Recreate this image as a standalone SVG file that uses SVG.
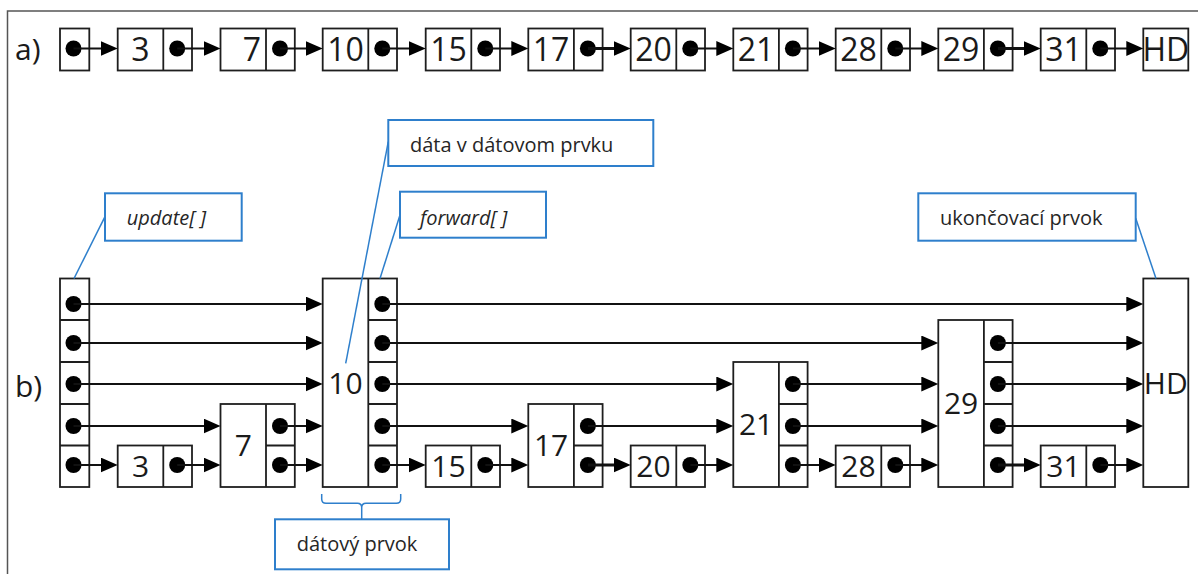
<svg xmlns="http://www.w3.org/2000/svg" width="1198" height="574" viewBox="0 0 1198 574">
  <defs>
    <style>
      .box { fill: #fff; stroke: #1e1e1e; stroke-width: 1.8; }
      .sep { stroke: #1e1e1e; stroke-width: 1.8; fill: none; }
      .dot { fill: #000; }
      .num { font-family: "Open Sans", "Liberation Sans", sans-serif; font-size: 30px; fill: #1a1a1a; text-anchor: middle; }
      .numa { font-size: 32px; }
      .tag { font-family: "Open Sans", "Liberation Sans", sans-serif; font-size: 30px; fill: #1a1a1a; }
      .lbl { font-family: "Open Sans", "Liberation Sans", sans-serif; font-size: 20px; fill: #262626; }
      .it { font-style: italic; }
      .call { fill: #fff; stroke: #2e7fcc; stroke-width: 2; }
      .lead { stroke: #2e7fcc; stroke-width: 1.5; fill: none; }
      .arr { stroke: #111; stroke-width: 1.8; fill: none; marker-end: url(#ah); }
      .thick { stroke-width: 3.2; }
      .frame { stroke: #555; stroke-width: 1.5; fill: none; }
    </style>
    <marker id="ah" markerUnits="userSpaceOnUse" markerWidth="18" markerHeight="16" refX="9" refY="7.5" orient="auto">
      <path d="M0,0 L17,7.5 L0,15 z" fill="#000"/>
    </marker>
  </defs>

  <rect width="1198" height="574" fill="#fff"/>
  <!-- page frame -->
  <path class="frame" d="M7.5,574 V11 H1198"/>

  <!-- section labels -->
  <text class="tag" x="15" y="60">a)</text>
  <text class="tag" x="15" y="397">b)</text>

  <!-- ===== a) simple linked list ===== -->
  <g id="a-head">
    <rect class="box" x="60" y="28.5" width="29.3" height="42"/>
    <circle class="dot" cx="73.5" cy="48.5" r="8"/>
  </g>
  <g id="a-n3">
    <rect class="box" x="117.7" y="28.5" width="74.3" height="42"/>
    <line class="sep" x1="163.3" y1="28.5" x2="163.3" y2="70.5"/>
    <circle class="dot" cx="177.2" cy="48.5" r="8"/>
    <text class="num numa" x="140.5" y="61">3</text>
  </g>
  <g id="a-n7">
    <rect class="box" x="220.5" y="28.5" width="74.3" height="42"/>
    <line class="sep" x1="266" y1="28.5" x2="266" y2="70.5"/>
    <circle class="dot" cx="280" cy="48.5" r="8"/>
    <text class="num numa" x="252" y="61">7</text>
  </g>
  <g id="a-n10">
    <rect class="box" x="322.7" y="28.5" width="74.3" height="42"/>
    <line class="sep" x1="368.3" y1="28.5" x2="368.3" y2="70.5"/>
    <circle class="dot" cx="382.3" cy="48.5" r="8"/>
    <text class="num numa" x="345.5" y="61">10</text>
  </g>
  <g id="a-n15">
    <rect class="box" x="425.7" y="28.5" width="74.3" height="42"/>
    <line class="sep" x1="471.3" y1="28.5" x2="471.3" y2="70.5"/>
    <circle class="dot" cx="485.3" cy="48.5" r="8"/>
    <text class="num numa" x="448.5" y="61">15</text>
  </g>
  <g id="a-n17">
    <rect class="box" x="528.3" y="28.5" width="74.3" height="42"/>
    <line class="sep" x1="573.9" y1="28.5" x2="573.9" y2="70.5"/>
    <circle class="dot" cx="587.9" cy="48.5" r="8"/>
    <text class="num numa" x="551.1" y="61">17</text>
  </g>
  <g id="a-n20">
    <rect class="box" x="630.7" y="28.5" width="74.3" height="42"/>
    <line class="sep" x1="676.3" y1="28.5" x2="676.3" y2="70.5"/>
    <circle class="dot" cx="690.3" cy="48.5" r="8"/>
    <text class="num numa" x="653.5" y="61">20</text>
  </g>
  <g id="a-n21">
    <rect class="box" x="733.3" y="28.5" width="74.3" height="42"/>
    <line class="sep" x1="778.9" y1="28.5" x2="778.9" y2="70.5"/>
    <circle class="dot" cx="792.9" cy="48.5" r="8"/>
    <text class="num numa" x="756.1" y="61">21</text>
  </g>
  <g id="a-n28">
    <rect class="box" x="835.7" y="28.5" width="74.3" height="42"/>
    <line class="sep" x1="881.3" y1="28.5" x2="881.3" y2="70.5"/>
    <circle class="dot" cx="895.3" cy="48.5" r="8"/>
    <text class="num numa" x="858.5" y="61">28</text>
  </g>
  <g id="a-n29">
    <rect class="box" x="938.3" y="28.5" width="74.3" height="42"/>
    <line class="sep" x1="983.9" y1="28.5" x2="983.9" y2="70.5"/>
    <circle class="dot" cx="997.9" cy="48.5" r="8"/>
    <text class="num numa" x="961.1" y="61">29</text>
  </g>
  <g id="a-n31">
    <rect class="box" x="1040.7" y="28.5" width="74.3" height="42"/>
    <line class="sep" x1="1086.3" y1="28.5" x2="1086.3" y2="70.5"/>
    <circle class="dot" cx="1100.3" cy="48.5" r="8"/>
    <text class="num numa" x="1063.5" y="61">31</text>
  </g>
  <g id="a-hd">
    <rect class="box" x="1143.3" y="28.5" width="45" height="42"/>
    <text class="num numa" x="1165.8" y="61">HD</text>
  </g>

  <!-- ===== b) skip list ===== -->
  <g id="b-update">
    <rect class="box" x="60" y="278.5" width="29.3" height="208.5"/>
    <path class="sep" d="M60,320 H89.3 M60,362 H89.3 M60,404 H89.3 M60,445.5 H89.3"/>
    <circle class="dot" cx="73.5" cy="304" r="8"/>
    <circle class="dot" cx="73.5" cy="343" r="8"/>
    <circle class="dot" cx="73.5" cy="384" r="8"/>
    <circle class="dot" cx="73.5" cy="426" r="8"/>
    <circle class="dot" cx="73.5" cy="465" r="8"/>
  </g>
  <g id="b-n3">
    <rect class="box" x="117.7" y="445.5" width="74.3" height="41.5"/>
    <line class="sep" x1="163.3" y1="445.5" x2="163.3" y2="487"/>
    <circle class="dot" cx="177.2" cy="465" r="8"/>
    <text class="num" x="140.5" y="477">3</text>
  </g>
  <g id="b-n7">
    <rect class="box" x="220.5" y="404" width="74.3" height="83"/>
    <path class="sep" d="M266,404 V487 M266,445.5 H294.8"/>
    <circle class="dot" cx="280" cy="426" r="8"/>
    <circle class="dot" cx="280" cy="465" r="8"/>
    <text class="num" x="243.3" y="456">7</text>
  </g>
  <g id="b-n10">
    <rect class="box" x="322.7" y="278.5" width="74.3" height="208.5"/>
    <path class="sep" d="M368.3,278.5 V487 M368.3,320 H397 M368.3,362 H397 M368.3,404 H397 M368.3,445.5 H397"/>
    <circle class="dot" cx="382.3" cy="304" r="8"/>
    <circle class="dot" cx="382.3" cy="343" r="8"/>
    <circle class="dot" cx="382.3" cy="384" r="8"/>
    <circle class="dot" cx="382.3" cy="426" r="8"/>
    <circle class="dot" cx="382.3" cy="465" r="8"/>
    <text class="num" x="345.5" y="393.5">10</text>
  </g>
  <g id="b-n15">
    <rect class="box" x="425.7" y="445.5" width="74.3" height="41.5"/>
    <line class="sep" x1="471.3" y1="445.5" x2="471.3" y2="487"/>
    <circle class="dot" cx="485.3" cy="465" r="8"/>
    <text class="num" x="448.5" y="477">15</text>
  </g>
  <g id="b-n17">
    <rect class="box" x="528.3" y="404" width="74.3" height="83"/>
    <path class="sep" d="M573.9,404 V487 M573.9,445.5 H602.6"/>
    <circle class="dot" cx="587.9" cy="426" r="8"/>
    <circle class="dot" cx="587.9" cy="465" r="8"/>
    <text class="num" x="551.1" y="456">17</text>
  </g>
  <g id="b-n20">
    <rect class="box" x="630.7" y="445.5" width="74.3" height="41.5"/>
    <line class="sep" x1="676.3" y1="445.5" x2="676.3" y2="487"/>
    <circle class="dot" cx="690.3" cy="465" r="8"/>
    <text class="num" x="653.5" y="477">20</text>
  </g>
  <g id="b-n21">
    <rect class="box" x="733.3" y="362" width="74.3" height="125"/>
    <path class="sep" d="M778.9,362 V487 M778.9,404 H807.6 M778.9,445.5 H807.6"/>
    <circle class="dot" cx="792.9" cy="384" r="8"/>
    <circle class="dot" cx="792.9" cy="426" r="8"/>
    <circle class="dot" cx="792.9" cy="465" r="8"/>
    <text class="num" x="756.1" y="435">21</text>
  </g>
  <g id="b-n28">
    <rect class="box" x="835.7" y="445.5" width="74.3" height="41.5"/>
    <line class="sep" x1="881.3" y1="445.5" x2="881.3" y2="487"/>
    <circle class="dot" cx="895.3" cy="465" r="8"/>
    <text class="num" x="858.5" y="477">28</text>
  </g>
  <g id="b-n29">
    <rect class="box" x="938.3" y="320" width="74.3" height="167"/>
    <path class="sep" d="M983.9,320 V487 M983.9,362 H1012.6 M983.9,404 H1012.6 M983.9,445.5 H1012.6"/>
    <circle class="dot" cx="997.9" cy="343" r="8"/>
    <circle class="dot" cx="997.9" cy="384" r="8"/>
    <circle class="dot" cx="997.9" cy="426" r="8"/>
    <circle class="dot" cx="997.9" cy="465" r="8"/>
    <text class="num" x="961.1" y="414">29</text>
  </g>
  <g id="b-n31">
    <rect class="box" x="1040.7" y="445.5" width="74.3" height="41.5"/>
    <line class="sep" x1="1086.3" y1="445.5" x2="1086.3" y2="487"/>
    <circle class="dot" cx="1100.3" cy="465" r="8"/>
    <text class="num" x="1063.5" y="477">31</text>
  </g>
  <g id="b-hd">
    <rect class="box" x="1143.3" y="278.5" width="45" height="208.5"/>
    <text class="num" x="1165.8" y="393.5">HD</text>
  </g>

  <!-- pointer connectors (line ends 8px short of the arrow tip) -->
  <g id="connectors">
    <!-- a) -->
    <line class="arr" x1="73.5" y1="48.5" x2="109.7" y2="48.5"/>
    <line class="arr" x1="177.2" y1="48.5" x2="212.5" y2="48.5"/>
    <line class="arr" x1="280" y1="48.5" x2="314.7" y2="48.5"/>
    <line class="arr" x1="382.3" y1="48.5" x2="417.7" y2="48.5"/>
    <line class="arr" x1="485.3" y1="48.5" x2="520.3" y2="48.5"/>
    <line class="arr thick" x1="587.9" y1="48.5" x2="622.7" y2="48.5"/>
    <line class="arr" x1="690.3" y1="48.5" x2="725.3" y2="48.5"/>
    <line class="arr" x1="792.9" y1="48.5" x2="827.7" y2="48.5"/>
    <line class="arr" x1="895.3" y1="48.5" x2="930.3" y2="48.5"/>
    <line class="arr thick" x1="997.9" y1="48.5" x2="1032.7" y2="48.5"/>
    <line class="arr" x1="1100.3" y1="48.5" x2="1135.3" y2="48.5"/>

    <!-- b) update[] -->
    <line class="arr" x1="73.5" y1="304" x2="314.7" y2="304"/>
    <line class="arr" x1="73.5" y1="343" x2="314.7" y2="343"/>
    <line class="arr" x1="73.5" y1="384" x2="314.7" y2="384"/>
    <line class="arr" x1="73.5" y1="426" x2="212.5" y2="426"/>
    <line class="arr" x1="73.5" y1="465" x2="109.7" y2="465"/>
    <!-- 3, 7 -->
    <line class="arr" x1="177.2" y1="465" x2="212.5" y2="465"/>
    <line class="arr" x1="280" y1="426" x2="314.7" y2="426"/>
    <line class="arr" x1="280" y1="465" x2="314.7" y2="465"/>
    <!-- 10 -->
    <line class="arr" x1="382.3" y1="304" x2="1135.3" y2="304"/>
    <line class="arr" x1="382.3" y1="343" x2="930.3" y2="343"/>
    <line class="arr" x1="382.3" y1="384" x2="725.3" y2="384"/>
    <line class="arr" x1="382.3" y1="426" x2="520.3" y2="426"/>
    <line class="arr" x1="382.3" y1="465" x2="417.7" y2="465"/>
    <!-- 15, 17, 20 -->
    <line class="arr" x1="485.3" y1="465" x2="520.3" y2="465"/>
    <line class="arr" x1="587.9" y1="426" x2="725.3" y2="426"/>
    <line class="arr thick" x1="587.9" y1="465" x2="622.7" y2="465"/>
    <line class="arr" x1="690.3" y1="465" x2="725.3" y2="465"/>
    <!-- 21, 28 -->
    <line class="arr" x1="792.9" y1="384" x2="930.3" y2="384"/>
    <line class="arr" x1="792.9" y1="426" x2="930.3" y2="426"/>
    <line class="arr" x1="792.9" y1="465" x2="827.7" y2="465"/>
    <line class="arr" x1="895.3" y1="465" x2="930.3" y2="465"/>
    <!-- 29, 31 -->
    <line class="arr" x1="997.9" y1="343" x2="1135.3" y2="343"/>
    <line class="arr" x1="997.9" y1="384" x2="1135.3" y2="384"/>
    <line class="arr" x1="997.9" y1="426" x2="1135.3" y2="426"/>
    <line class="arr thick" x1="997.9" y1="465" x2="1032.7" y2="465"/>
    <line class="arr" x1="1100.3" y1="465" x2="1135.3" y2="465"/>
  </g>

  <!-- callouts -->
  <g id="callout-update">
    <line class="lead" x1="105" y1="216.7" x2="74" y2="278.5"/>
    <rect class="call" x="105" y="193.3" width="136.7" height="47.4"/>
    <text class="lbl it" x="126.7" y="225">update[ ]</text>
  </g>
  <g id="callout-data">
    <line class="lead" x1="388.3" y1="141.7" x2="345.7" y2="363.3"/>
    <rect class="call" x="388.3" y="120" width="265" height="46"/>
    <text class="lbl" x="410" y="151.7">dáta v dátovom prvku</text>
  </g>
  <g id="callout-forward">
    <line class="lead" x1="400" y1="215" x2="380" y2="278.5"/>
    <rect class="call" x="400" y="191.7" width="146" height="46"/>
    <text class="lbl it" x="420" y="225">forward[ ]</text>
  </g>
  <g id="callout-end">
    <line class="lead" x1="1135.7" y1="218.3" x2="1156" y2="278.5"/>
    <rect class="call" x="918.3" y="193.3" width="217.4" height="47.4"/>
    <text class="lbl" x="940" y="225">ukončovací prvok</text>
  </g>
  <g id="callout-element">
    <path class="lead" d="M321.7,494 V499 Q321.7,503.3 326,503.3 H357.4 Q361.7,503.3 361.7,507.6 V519.3 M361.7,507.6 Q361.7,503.3 366,503.3 H396.4 Q400.7,503.3 400.7,499 V494"/>
    <rect class="call" x="275" y="519.3" width="174" height="50"/>
    <text class="lbl" x="296.7" y="550.7">dátový prvok</text>
  </g>
</svg>
